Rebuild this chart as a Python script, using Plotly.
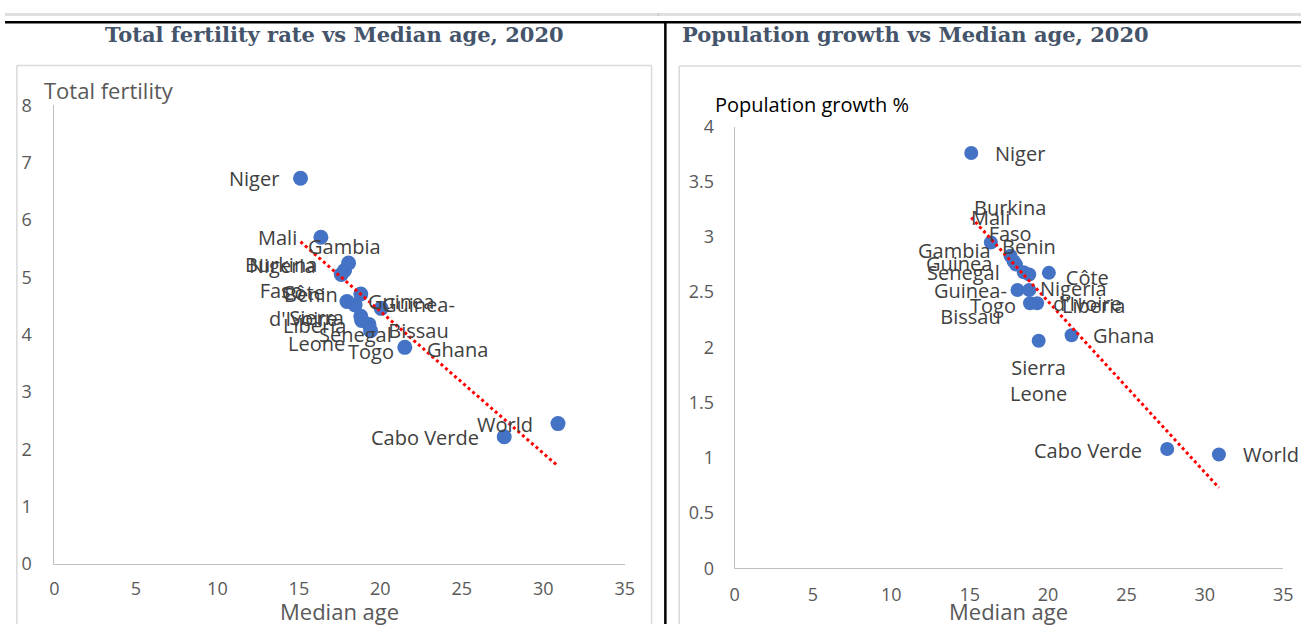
import numpy as np
import plotly.graph_objects as go

countries = ["Niger", "Mali", "Burkina Faso", "Gambia", "Nigeria", "Guinea", "Senegal", "Benin",
             "Guinea-Bissau", "Côte d'Ivoire", "Togo", "Liberia", "Sierra Leone", "Ghana",
             "Cabo Verde", "World"]
median_age = [15.1, 16.35, 17.6, 17.8, 18.05, 17.95, 18.45, 18.8, 18.8, 20.05, 18.85, 19.3, 19.4, 21.5, 27.6, 30.9]
fertility = [6.73, 5.70, 5.05, 5.12, 5.25, 4.58, 4.52, 4.71, 4.32, 4.46, 4.25, 4.18, 4.07, 3.78, 2.22, 2.45]
pop_growth = [3.76, 2.95, 2.83, 2.78, 2.52, 2.75, 2.68, 2.66, 2.52, 2.675, 2.40, 2.40, 2.06, 2.11, 1.08, 1.03]
label_text = {"Burkina Faso": "Burkina<br>Faso", "Guinea-Bissau": "Guinea-<br>Bissau",
              "Côte d'Ivoire": "Côte<br>d'Ivoire", "Sierra Leone": "Sierra<br>Leone"}

# label offsets (pixels, dx right, dy down) – style only
left_off = {"Niger": (-47, 0), "Mali": (-43, 0), "Gambia": (0, -24), "Nigeria": (-66, 2),
            "Burkina Faso": (-60, 3), "Benin": (-50, 0), "Côte d'Ivoire": (-78, -3),
            "Guinea": (54, 0), "Guinea-Bissau": (58, 1), "Senegal": (0, 30), "Togo": (9, 31),
            "Liberia": (-54, 1), "Sierra Leone": (-54, 0), "Ghana": (53, 2),
            "Cabo Verde": (-79, 1), "World": (-53, 1)}
right_off = {"Niger": (49, 0), "Mali": (0, -25), "Burkina Faso": (0, -35), "Gambia": (-59, -11),
             "Nigeria": (56, -1), "Guinea": (-57, -1), "Senegal": (-60, 0), "Benin": (0, -28),
             "Guinea-Bissau": (-59, 14), "Côte d'Ivoire": (39, 18), "Togo": (-37, 2),
             "Liberia": (56, 2), "Sierra Leone": (0, 40), "Ghana": (52, 0),
             "Cabo Verde": (-79, 2), "World": (52, 0)}

W, H = 1311, 635
def px(x): return x / W
def py(y): return 1 - y / H

BLUE = "#4472C4"
TICK = "#595959"
LAB = "#404040"
FONT = "Open Sans"

fig = go.Figure()
fig.add_trace(go.Scatter(x=median_age, y=fertility, mode="markers",
                         marker=dict(color=BLUE, size=15), xaxis="x", yaxis="y", hoverinfo="skip"))
fig.add_trace(go.Scatter(x=median_age, y=pop_growth, mode="markers",
                         marker=dict(color=BLUE, size=14), xaxis="x2", yaxis="y2", hoverinfo="skip"))

xs = np.array(median_age)
for ys, xa, ya in [(fertility, "x", "y"), (pop_growth, "x2", "y2")]:
    k, b = np.polyfit(xs, np.array(ys), 1)
    xl = np.linspace(xs.min(), xs.max(), 2)
    fig.add_trace(go.Scatter(x=xl, y=k * xl + b, mode="lines",
                             line=dict(color="#FF0000", width=3, dash="dot"),
                             xaxis=xa, yaxis=ya, hoverinfo="skip"))

axcommon = dict(showgrid=False, zeroline=False, showline=True, linecolor="#BFBFBF", linewidth=1,
                ticks="", tickfont=dict(family=FONT, size=18, color=TICK), fixedrange=True)
fig.update_layout(
    width=W, height=H, margin=dict(l=0, r=0, t=0, b=0), showlegend=False,
    paper_bgcolor="white", plot_bgcolor="white",
    xaxis=dict(domain=[px(50), px(627)], range=[0, 35], dtick=5, anchor="y",
               ticklabelstandoff=8, **axcommon),
    yaxis=dict(domain=[py(572.7), py(96)], range=[0, 8], dtick=1, anchor="x",
               ticklabelstandoff=18, **axcommon),
    xaxis2=dict(domain=[px(738), px(1293)], range=[0, 35], dtick=5, anchor="y2",
                ticklabelstandoff=10, **axcommon),
    yaxis2=dict(domain=[py(577), py(118)], range=[0, 4], dtick=0.5, anchor="x2",
                ticklabelstandoff=16, **axcommon),
)

ann = []
for i, c in enumerate(countries):
    for off, ys, xr, yr in [(left_off, fertility, "x", "y"), (right_off, pop_growth, "x2", "y2")]:
        dx, dy = off[c]
        ann.append(dict(x=median_age[i], y=ys[i], xref=xr, yref=yr, text=label_text.get(c, c),
                        showarrow=False, xshift=dx, yshift=-dy, xanchor="center", yanchor="middle",
                        font=dict(family=FONT, size=20, color=LAB)))

TITLE = "#44546A"
ann += [
    dict(x=px(333), y=py(22), xref="paper", yref="paper", text="<b>Total fertility rate vs Median age, 2020</b>",
         showarrow=False, xanchor="center", yanchor="middle", font=dict(family="DejaVu Serif", size=21, color=TITLE)),
    dict(x=px(683), y=py(22), xref="paper", yref="paper", text="<b>Population growth vs Median age, 2020</b>",
         showarrow=False, xanchor="left", yanchor="middle", font=dict(family="DejaVu Serif", size=21, color=TITLE)),
    dict(x=px(37), y=py(80), xref="paper", yref="paper", text="Total fertility",
         showarrow=False, xanchor="left", yanchor="middle", font=dict(family=FONT, size=22, color=TICK)),
    dict(x=px(338), y=py(621), xref="paper", yref="paper", text="Median age",
         showarrow=False, xanchor="center", yanchor="middle", font=dict(family=FONT, size=22, color=TICK)),
    dict(x=px(716), y=py(95), xref="paper", yref="paper", text="Population growth %",
         showarrow=False, xanchor="left", yanchor="middle", font=dict(family=FONT, size=20, color="#000000")),
    dict(x=px(1015), y=py(621), xref="paper", yref="paper", text="Median age",
         showarrow=False, xanchor="center", yanchor="middle", font=dict(family=FONT, size=22, color=TICK)),
]
fig.update_layout(annotations=ann)

def hline(y, x0, x1, color, w):
    return dict(type="line", xref="paper", yref="paper", x0=px(x0), x1=px(x1), y0=py(y), y1=py(y),
                line=dict(color=color, width=w))
def vline(x, y0, y1, color, w):
    return dict(type="line", xref="paper", yref="paper", x0=px(x), x1=px(x), y0=py(y0), y1=py(y1),
                line=dict(color=color, width=w))

GREY = "#D9D9D9"
shapes = [
    dict(type="rect", xref="paper", yref="paper", x0=0, x1=1, y0=py(3), y1=1,
         line=dict(width=0), fillcolor="#E0E0E0", layer="below"),
    vline(661, 0, 3, "#C8C8C8", 1.5),
    hline(9.5, 0, W, "black", 2.5),
    vline(668, 9, H, "black", 2.5),
    hline(54.5, 12, 654, GREY, 1.5), vline(12, 54.5, H, GREY, 1.5), vline(654, 54.5, H, GREY, 1.5),
    hline(55, 682, W, GREY, 1.5), vline(682, 55, H, GREY, 1.5),
]
fig.update_layout(shapes=shapes)
fig.write_html("out.html", config={"displayModeBar": False},
               post_script=("document.documentElement.style.margin='0';"
                            "document.body.style.margin='0';document.body.style.overflow='hidden';"
                            "var g=document.getElementById('{plot_id}');g.style.overflow='hidden';"))
